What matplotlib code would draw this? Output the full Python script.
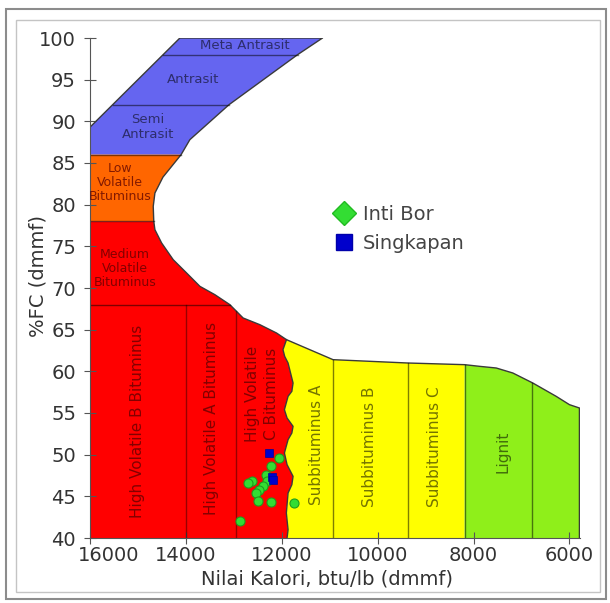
import matplotlib.pyplot as plt
import numpy as np
from matplotlib.lines import Line2D
from matplotlib.patches import Rectangle
import matplotlib.transforms as mtransforms

# batas kanan kelas antrasit - bituminus (nilai kalori vs %FC)
kurva_y = np.array([63.8, 64.6, 65.6, 66.4, 68.0, 69.2, 70.2, 71.8, 73.4, 75.4, 77.0, 78.0,
                    79.8, 81.4, 83.3, 86.0, 87.8, 92.0, 98.0, 100.0])
kurva_x = np.array([11902, 12110, 12458, 12806, 13083, 13396, 13708, 13985, 14265, 14506, 14646, 14670,
                    14681, 14646, 14479, 14100, 13917, 13100, 11670, 11150])

# sisi kiri atas (antrasit)
kiri_x = np.array([16000, 14125])
kiri_y = np.array([89.3, 100.0])

# batas atas subbituminus dan lignit
atas_x = np.array([11902, 10931, 9375, 8187, 7875, 7527, 7181, 6765, 6277, 6000, 5792])
atas_y = np.array([63.8, 61.4, 61.0, 60.8, 60.6, 60.4, 59.8, 58.6, 57.0, 56.0, 55.6])

# batas bergelombang high volatile C / subbituminus A
gel_x = np.array([11902, 11975, 11940, 11869, 11765, 11790, 11869, 11945, 11890, 11765, 11790,
                  11869, 11945, 11890, 11765, 11790, 11869, 11905, 11869, 11890])
gel_y = np.array([63.8, 62.6, 61.8, 61.0, 58.6, 57.6, 57.0, 55.4, 54.4, 53.4, 52.6,
                  51.8, 50.2, 48.8, 47.4, 46.4, 45.4, 43.0, 41.0, 40.0])

# garis batas kelas
garis_fc = [98, 92, 86, 78, 68]
garis_hv = [14000, 12950]
garis_sub = [10931, 9375, 8187, 6771]

# data sampel
inti_bor_x = [12060, 12215, 12330, 12300, 12630, 12700, 12390, 12470, 12540, 12490, 12230, 11750, 12875]
inti_bor_y = [49.6, 48.6, 47.6, 46.9, 46.8, 46.6, 46.2, 45.8, 45.4, 44.4, 44.3, 44.2, 42.0]
singkapan_x = [12265, 12210, 12180]
singkapan_y = [50.2, 47.3, 47.0]

c_biru = "#6565f0"
c_oranye = "#ff6600"
c_merah = "#ff0000"
c_kuning = "#ffff00"
c_hijau = "#8fef1a"
c_garis = "#3a3a3a"
c_teks = (0, 0, 0, 0.55)
c_teks_merah = (0.35, 0, 0, 0.75)

fig = plt.figure(figsize=(6.10, 6.03), dpi=100)
ax = fig.add_axes([90 / 610, 1 - 538 / 603, 490 / 610, 500 / 603])


def segmen(lo, hi):
    m = (kurva_y >= lo) & (kurva_y <= hi)
    return list(kurva_x[m][::-1]), list(kurva_y[m][::-1])


# antrasit
sx, sy = segmen(86, 100)
ax.fill([16000, 16000, kiri_x[1]] + sx, [86, kiri_y[0], kiri_y[1]] + sy, color=c_biru, lw=0)
# low volatile
sx, sy = segmen(78, 86)
ax.fill([16000, 16000] + sx, [78, 86] + sy, color=c_oranye, lw=0)
# medium & high volatile
sx, sy = segmen(63.8, 78)
ax.fill([16000, 16000] + sx + list(gel_x), [40, 78] + sy + list(gel_y), color=c_merah, lw=0)
# subbituminus
ms = atas_x >= 8187
ax.fill(list(gel_x) + [8187] + list(atas_x[ms][::-1]),
        list(gel_y) + [40] + list(atas_y[ms][::-1]), color=c_kuning, lw=0)
# lignit
ml = atas_x <= 8187
ax.fill([8187] + list(atas_x[ml]) + [atas_x[-1]],
        [40] + list(atas_y[ml]) + [40], color=c_hijau, lw=0)

# garis tepi
tepi_x = [16000, 16000, kiri_x[1]] + list(kurva_x[::-1]) + list(atas_x[1:]) + [atas_x[-1]]
tepi_y = [40, kiri_y[0], kiri_y[1]] + list(kurva_y[::-1]) + list(atas_y[1:]) + [40]
ax.plot(tepi_x, tepi_y, color=c_garis, lw=1)
ax.plot(gel_x, gel_y, color=c_garis, lw=1)

for fc in garis_fc:
    xa = np.interp(fc, kiri_y, kiri_x) if fc > kiri_y[0] else 16000
    xb = np.interp(fc, kurva_y, kurva_x)
    ax.plot([xa, xb], [fc, fc], color="k", alpha=0.5, lw=1)

bawah = kurva_y <= 78
for kv in garis_hv:
    yt = 68 if kv == 14000 else np.interp(kv, kurva_x[bawah], kurva_y[bawah])
    ax.plot([kv, kv], [40, yt], color="k", alpha=0.4, lw=1)

for kv in garis_sub:
    yt = np.interp(kv, atas_x[::-1], atas_y[::-1])
    ax.plot([kv, kv], [40, yt], color="k", alpha=0.5, lw=1)

# label kelas batubara
ax.text(12770, 99.1, "Meta Antrasit", fontsize=9.5, color=c_teks, ha="center", va="center")
ax.text(13850, 95.0, "Antrasit", fontsize=9.5, color=c_teks, ha="center", va="center")
ax.text(14790, 89.3, "Semi\nAntrasit", fontsize=9.5, color=c_teks, ha="center", va="center")
ax.text(15375, 82.7, "Low\nVolatile\nBituminus", fontsize=9, color=c_teks_merah, ha="center", va="center",
        linespacing=1.1)
ax.text(15270, 72.4, "Medium\nVolatile\nBituminus", fontsize=9, color=c_teks_merah, ha="center",
        va="center", linespacing=1.1)
ax.text(15000, 54.0, "High Volatile B Bituminus", fontsize=11, color=c_teks_merah, ha="center",
        va="center", rotation=90)
ax.text(13465, 54.3, "High Volatile A Bituminus", fontsize=11, color=c_teks_merah, ha="center",
        va="center", rotation=90)
ax.text(12417, 57.3, "High Volatile\nC Bituminus", fontsize=11, color=c_teks_merah, ha="center",
        va="center", rotation=90, linespacing=1.35)
ax.text(11275, 51.2, "Subbituminus A", fontsize=11, color=c_teks, ha="center", va="center", rotation=90)
ax.text(10167, 51.0, "Subbituminus B", fontsize=11, color=c_teks, ha="center", va="center", rotation=90)
ax.text(8813, 51.0, "Subbituminus C", fontsize=11, color=c_teks, ha="center", va="center", rotation=90)
ax.text(7389, 50.3, "Lignit", fontsize=11, color=c_teks, ha="center", va="center", rotation=90)

# titik sampel
ax.plot(inti_bor_x, inti_bor_y, "o", ms=6.5, color="#33dd33", mec="#1e9e1e", mew=0.8)
ax.plot(singkapan_x, singkapan_y, "s", ms=5.5, color="#0000cc", mec="#000099", mew=0.5)

legenda = [
    Line2D([], [], marker="D", ls="", ms=12, color="#33dd33", mec="#22bb22", label="Inti Bor"),
    Line2D([], [], marker="s", ls="", ms=11, color="#0000cc", mec="#0000aa", label="Singkapan"),
]
ax.legend(handles=legenda, loc="upper left", bbox_to_anchor=(0.478, 0.685), frameon=False,
          fontsize=14, handlelength=1.0, handletextpad=0.5, labelspacing=0.5, borderpad=0,
          labelcolor="#444444")

ax.set_xlim(16000, 5780)
ax.set_ylim(40, 100)
ax.set_xticks([16000, 14000, 12000, 10000, 8000, 6000])
ax.set_yticks(np.arange(40, 101, 5))
ax.tick_params(direction="inout", length=8, color="#555555", labelsize=14, labelcolor="#333333")
ax.tick_params(axis="y", pad=6)
ax.tick_params(axis="x", pad=2)
for s in ["top", "right"]:
    ax.spines[s].set_visible(False)
for s in ["left", "bottom"]:
    ax.spines[s].set_color("#555555")

lbl = ax.get_xticklabels()[0]
lbl.set_transform(lbl.get_transform() + mtransforms.ScaledTranslation(0.19, 0, fig.dpi_scale_trans))

ax.set_xlabel("Nilai Kalori, btu/lb (dmmf)", fontsize=14, color="#333333")
ax.set_ylabel("%FC (dmmf)", fontsize=14, color="#333333")
ax.xaxis.set_label_coords(0.484, -0.063)
ax.yaxis.set_label_coords(-0.086, 0.524)

# bingkai gambar
fig.patches.append(Rectangle((6 / 610, 1 - 599 / 603), 600 / 610, 590 / 603, transform=fig.transFigure,
                             fill=False, ec="#8c8c8c", lw=1.5))
fig.patches.append(Rectangle((16 / 610, 1 - 592 / 603), 584 / 610, 572 / 603, transform=fig.transFigure,
                             fill=False, ec="#c4c4c4", lw=1))

fig.savefig("out.png", dpi=100)
